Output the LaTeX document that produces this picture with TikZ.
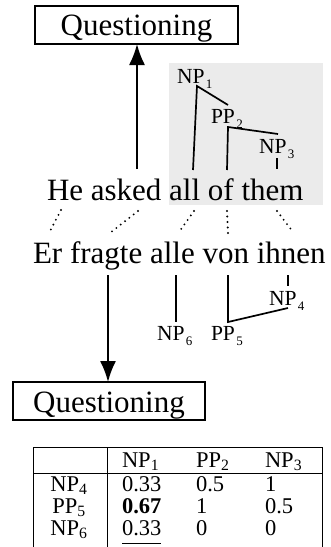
\documentclass[tikz,border=0pt]{standalone}
\usepackage{fontspec}
\setmainfont{Liberation Serif}
\usetikzlibrary{arrows.meta}
\definecolor{lightshade}{RGB}{235,235,235}
\newcommand\treesub[1]{\hspace{1.5pt}\raisebox{-5pt}{\fontsize{13}{13}\selectfont #1}}
\begin{document}
\begin{tikzpicture}[x=1pt,y=-1pt,
  every node/.style={inner sep=0pt,outer sep=0pt},
  big/.style={font=\fontsize{31}{37}\selectfont},
  lab/.style={font=\fontsize{21.5}{26}\selectfont, anchor=base west},
  tab/.style={font=\fontsize{22.5}{26}\selectfont, anchor=base west},
  tabc/.style={font=\fontsize{22.5}{26}\selectfont, anchor=base},
  branch/.style={line width=1.7pt},
  alignline/.style={line width=2.1pt, dash pattern=on 0pt off 5.5pt, line cap=round},
  framebox/.style={draw, line width=1.5pt, big},
  arr/.style={line width=1.8pt, -{Latex[length=21pt,width=16pt]}},
  rulel/.style={line width=1pt}
]
\useasboundingbox (0,0) rectangle (331,547);
\fill[lightshade] (169,63) rectangle (323,205);

% boxes
\node[framebox, minimum width=203pt, minimum height=38pt, text height=24pt, text depth=4pt] (qtop) at (136.5,25) {Questioning};
\node[framebox, minimum width=192pt, minimum height=38pt, text height=25pt, text depth=3pt] (qbot) at (109,401) {Questioning};

% sentences
\node[big, anchor=base west] (en) at (47,200) {He asked all of them};
\node[big, anchor=base west] (de) at (33,263) {Er fragte alle von ihnen};

% arrows
\coordinate (upfoot) at (137,169);
\draw[arr] (upfoot) -- (upfoot |- qtop.south);
\coordinate (downtop) at (108,275);
\draw[arr] (downtop) -- (downtop |- qbot.north);

% English tree
\node[lab] (np1) at (177,83) {NP\treesub{1}};
\node[lab] (pp2) at (211,123) {PP\treesub{2}};
\node[lab] (np3) at (259,153) {NP\treesub{3}};
\coordinate (n1top) at (197,86);
\coordinate (n1foot) at (193,170);
\coordinate (n1right) at (228,105);
\coordinate (p2top) at (228,127);
\coordinate (p2foot) at (227,170);
\coordinate (p2right) at (278,134);
\coordinate (n3top) at (277,158);
\coordinate (n3foot) at (277,169);
\draw[branch] (n1foot) -- (n1top) -- (n1right);
\draw[branch] (p2foot) -- (p2top) -- (p2right);
\draw[branch] (n3top) -- (n3foot);

% German tree
\node[lab] (np6) at (157,340) {NP\treesub{6}};
\node[lab] (pp5) at (211,340) {PP\treesub{5}};
\node[lab] (np4) at (269,305) {NP\treesub{4}};
\coordinate (n6top) at (176,275);
\coordinate (n6foot) at (176,322);
\coordinate (p5top) at (228,275);
\coordinate (p5corner) at (228,322);
\coordinate (n4low) at (288,308);
\coordinate (n4stubtop) at (288,275);
\coordinate (n4stubfoot) at (288,286);
\draw[branch] (n6top) -- (n6foot);
\draw[branch] (p5top) -- (p5corner) -- (n4low);
\draw[branch] (n4stubtop) -- (n4stubfoot);

% word alignments
\coordinate (e1) at (61,210);  \coordinate (g1) at (49,233);
\coordinate (e2) at (138,211); \coordinate (g2) at (110,233);
\coordinate (e3) at (194,211); \coordinate (g3) at (179,232);
\coordinate (e4) at (227,211); \coordinate (g4) at (228,233);
\coordinate (e5) at (277,211); \coordinate (g5) at (293,232);
\draw[alignline] (e1) -- (g1);
\draw[alignline] (e2) -- (g2);
\draw[alignline] (e3) -- (g3);
\draw[alignline] (e4) -- (g4);
\draw[alignline] (e5) -- (g5);

% table
\draw[rulel] (33,547) -- (33,447) -- (322,447) -- (322,547);
\draw[rulel] (107,447) -- (107,547);
\draw[rulel] (33,473) -- (322,473);
\node[tab] (h1) at (122,467) {NP\textsubscript{1}};
\node[tab] (h2) at (196,467) {PP\textsubscript{2}};
\node[tab] (h3) at (265,467) {NP\textsubscript{3}};
\node[tabc] (r4) at (69,491) {NP\textsubscript{4}};
\node[tabc] (r5) at (69,513) {PP\textsubscript{5}};
\node[tabc] (r6) at (69,535) {NP\textsubscript{6}};
\node[tab] (v41) at (122,491) {0.33};
\node[tab] (v42) at (196,491) {0.5};
\node[tab] (v43) at (265,491) {1};
\node[tab] (v51) at (122,513) {\textbf{0.67}};
\node[tab] (v52) at (196,513) {1};
\node[tab] (v53) at (265,513) {0.5};
\node[tab] (v61) at (122,535) {0.33};
\node[tab] (v62) at (196,535) {0};
\node[tab] (v63) at (265,535) {0};
\draw[rulel] ([yshift=-8pt]v61.base west) -- ([yshift=-8pt]v61.base east);
\end{tikzpicture}
\end{document}
